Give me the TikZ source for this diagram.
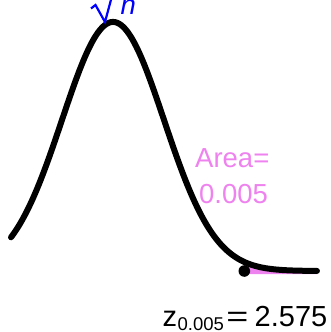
\documentclass[tikz,border=0pt]{standalone}
\usepackage{fontspec}
\setmainfont{Liberation Sans}
\definecolor{areaviolet}{RGB}{238,130,238}
\definecolor{labelblue}{RGB}{0,0,255}
\tikzset{
  curveline/.style={line width=6pt, line cap=round, line join=round, black},
  areafill/.style={fill=areaviolet, draw=none},
  bigtext/.style={inner sep=0pt, font=\fontsize{27.5}{27.5}\selectfont},
  ztext/.style={inner sep=0pt, font=\fontsize{29}{29}\selectfont},
  subtext/.style={inner sep=0pt, font=\fontsize{18.5}{18.5}\selectfont},
  areatext/.style={bigtext, text=areaviolet, anchor=base west},
  radical/.style={labelblue, line width=2.2pt, line join=miter}
}
\begin{document}
\begin{tikzpicture}[x=1pt,y=-1pt]
\clip (0,0) rectangle (330,332);
% shaded tail area
\fill[areafill] (244.3,274)
  -- plot[domain=2.575:4, samples=60] ({113+51*\x},{271-249*exp(-\x*\x/2)})
  -- (317,274) -- cycle;
% density curve
\draw[curveline] plot[domain=-2:4, samples=240] ({113+51*\x},{271-249*exp(-\x*\x/2)});
% critical point
\coordinate (zc) at (244.3,271);
\fill[black] (zc) circle (5.8pt);
% sqrt(n) label
\draw[radical] (91,8.5) -- (95.5,5) -- (105,22) -- (112,-4);
\node[bigtext, text=labelblue, anchor=base west] (nlab) at (120.5,14) {\itshape n};
% area label
\node[areatext] (area1) at (195,167) {Area=};
\node[areatext] (area2) at (199,203) {0.005};
% z label
\node[ztext, anchor=base west] (zlab) at (162.5,326) {z};
\node[subtext, anchor=base west] (zsub) at (177.5,330.5) {0.005};
\node[ztext, anchor=base] (eq) at (237.5,326) {\scalebox{1.3}[1]{=}};
\node[ztext, anchor=base west] (zval) at (254.5,326) {2.575};
\end{tikzpicture}
\end{document}
